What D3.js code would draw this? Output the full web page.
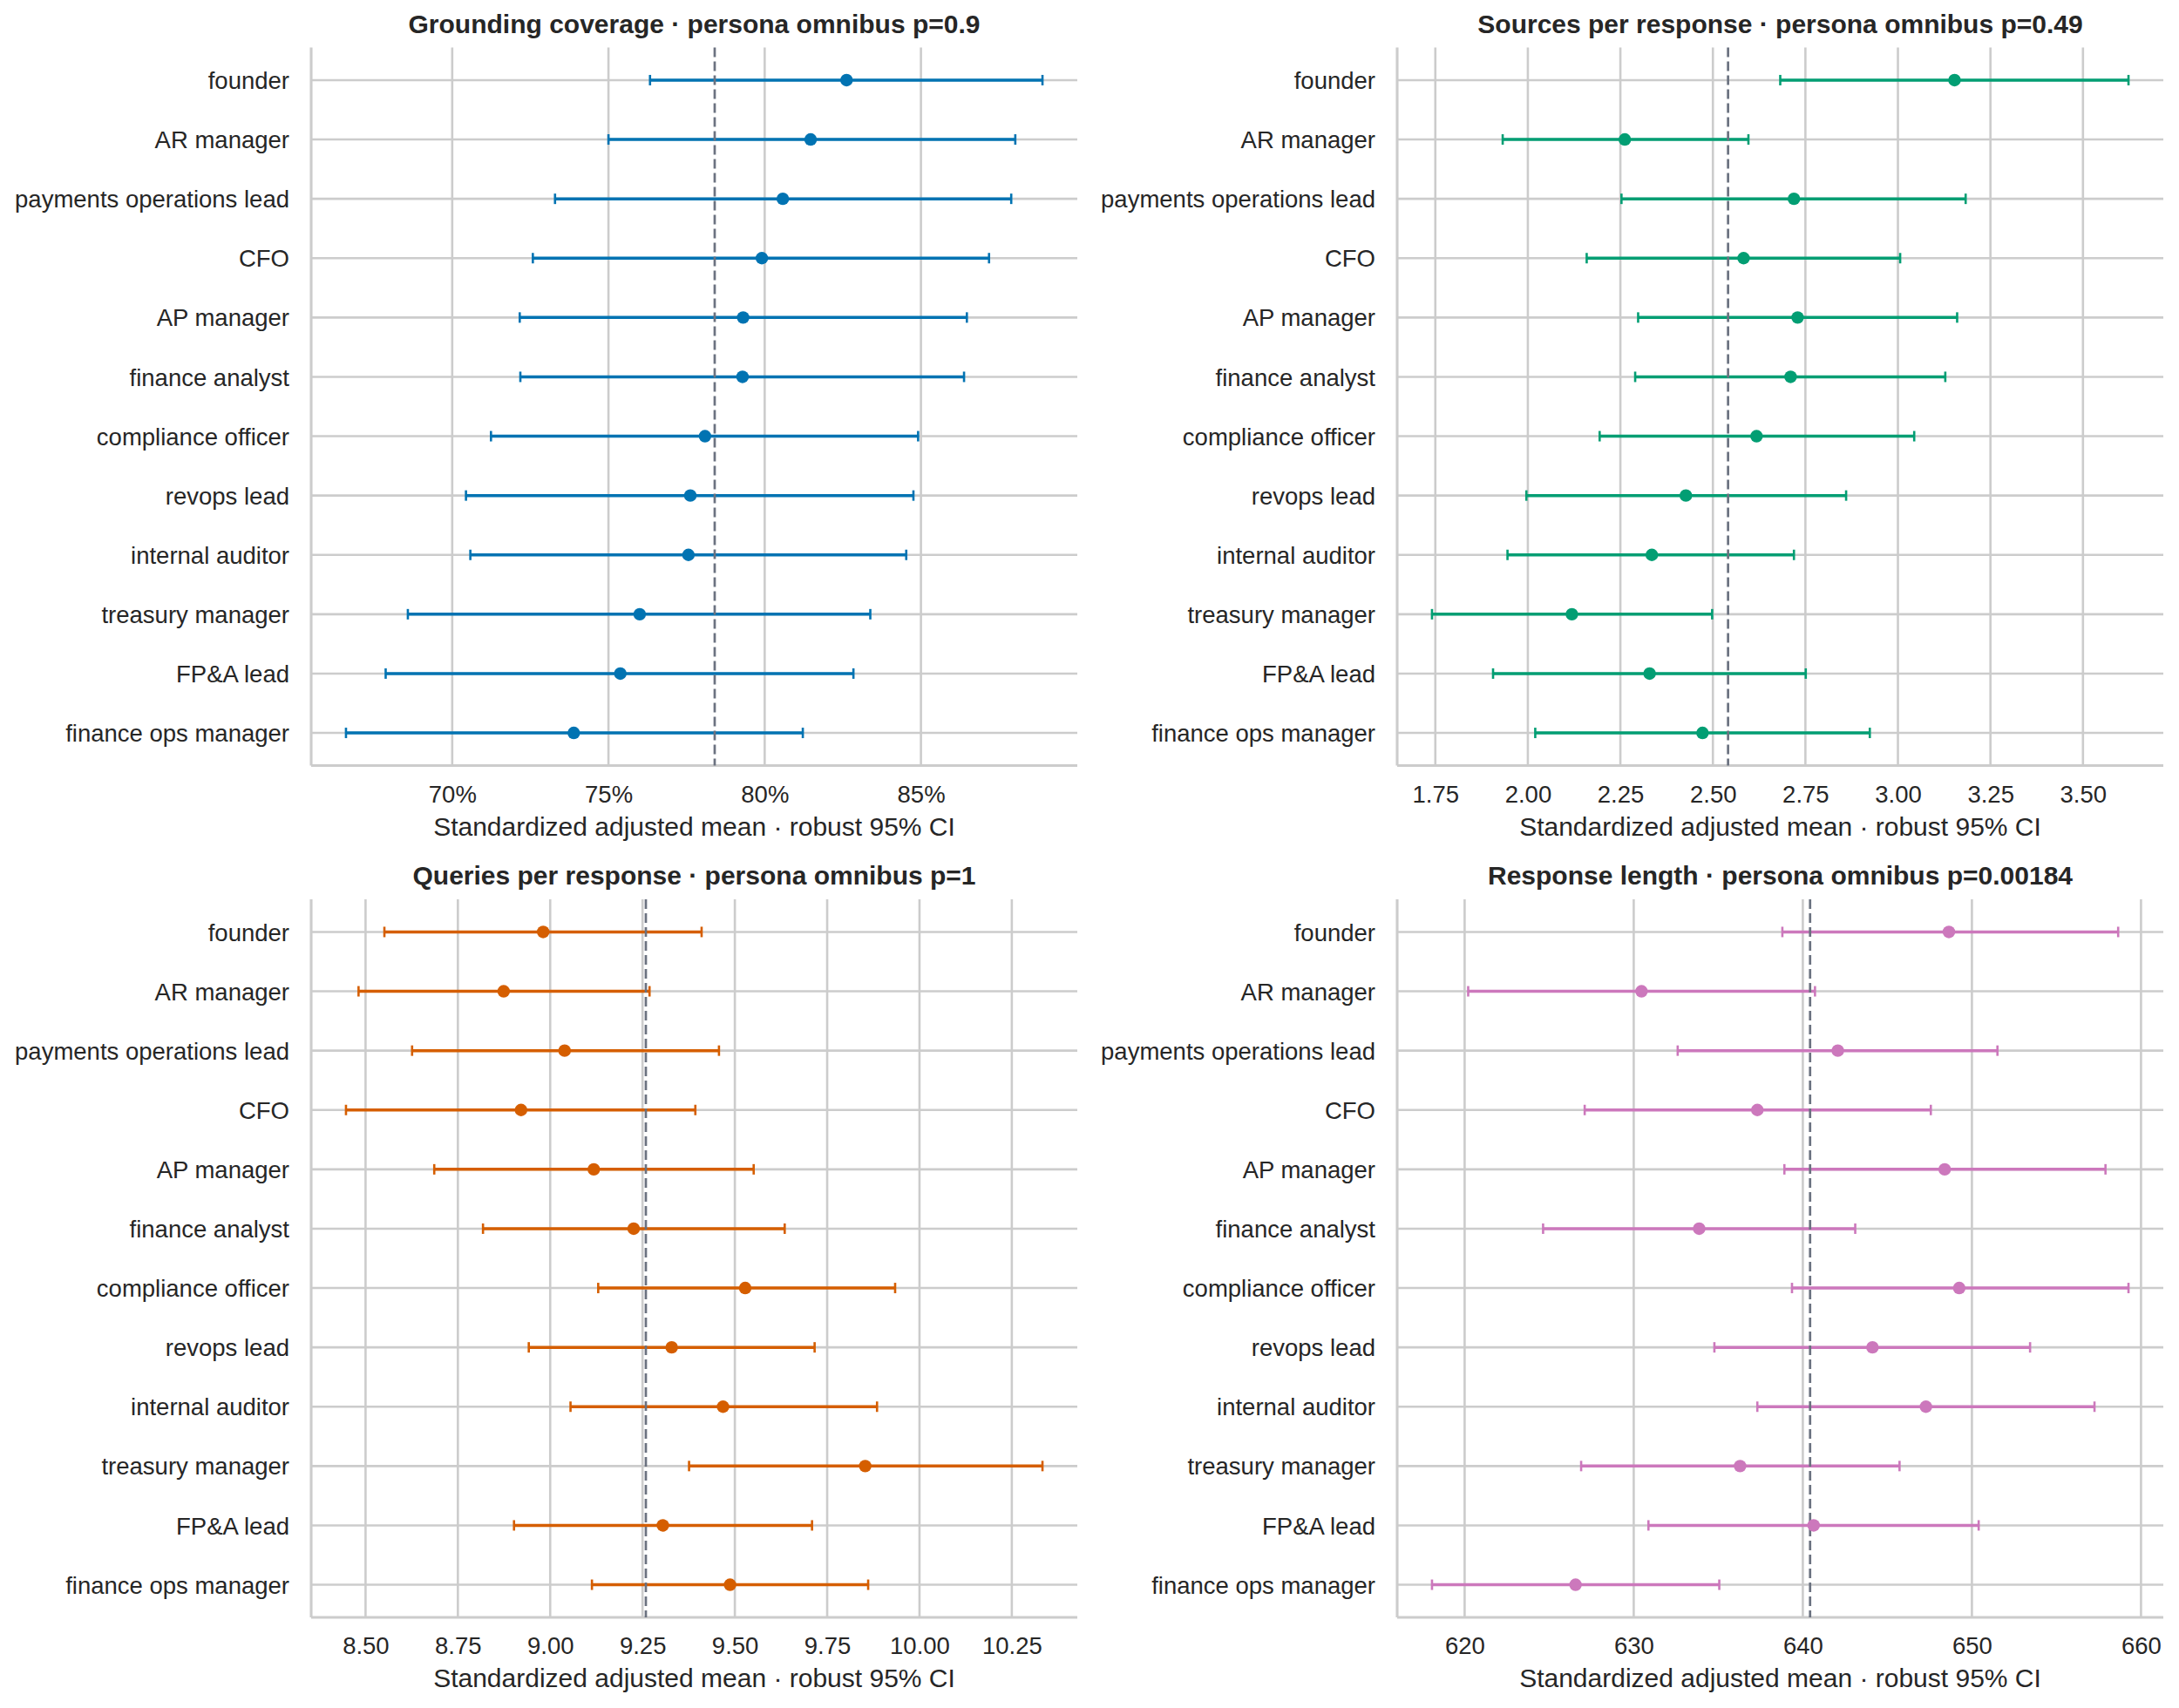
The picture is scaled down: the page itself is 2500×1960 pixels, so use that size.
<!DOCTYPE html>
<html>
<head>
<meta charset="utf-8">
<script src="https://cdn.jsdelivr.net/npm/d3@7"></script>
<style>
  body { margin: 0; background: #ffffff; }
  text { font-family: "Liberation Sans", Arial, sans-serif; fill: #262626; }
</style>
</head>
<body>
<div id="chart"></div>
<script>
// personas, top to bottom
var personas = ["founder", "AR manager", "payments operations lead", "CFO", "AP manager",
  "finance analyst", "compliance officer", "revops lead", "internal auditor",
  "treasury manager", "FP&A lead", "finance ops manager"];

// grounding coverage (%)
var groundMean = [82.62, 81.47, 80.58, 79.91, 79.31, 79.29, 78.09, 77.62, 77.56, 76.00, 75.38, 73.89];
var groundLo   = [76.33, 75.00, 73.29, 72.58, 72.16, 72.18, 71.24, 70.44, 70.58, 68.58, 67.87, 66.60];
var groundHi   = [88.89, 88.02, 87.89, 87.18, 86.47, 86.38, 84.91, 84.76, 84.53, 83.38, 82.84, 81.22];
var groundRef = 78.4;
var groundTicks = [70, 75, 80, 85];

// sources per response
var sourcesMean = [3.153, 2.262, 2.719, 2.583, 2.729, 2.710, 2.618, 2.427, 2.335, 2.119, 2.329, 2.472];
var sourcesLo   = [2.682, 1.932, 2.253, 2.159, 2.298, 2.290, 2.194, 1.996, 1.945, 1.741, 1.906, 2.020];
var sourcesHi   = [3.623, 2.596, 3.183, 3.006, 3.160, 3.128, 3.044, 2.860, 2.719, 2.498, 2.751, 2.924];
var sourcesRef = 2.541;
var sourcesTicks = [1.75, 2.00, 2.25, 2.50, 2.75, 3.00, 3.25, 3.50];

// queries per response
var queriesMean = [8.981, 8.874, 9.039, 8.921, 9.118, 9.226, 9.528, 9.329, 9.468, 9.853, 9.305, 9.487];
var queriesLo   = [8.551, 8.481, 8.626, 8.447, 8.686, 8.818, 9.130, 8.942, 9.055, 9.376, 8.902, 9.113];
var queriesHi   = [9.410, 9.269, 9.457, 9.393, 9.551, 9.635, 9.934, 9.716, 9.885, 10.333, 9.709, 9.861];
var queriesRef = 9.259;
var queriesTicks = [8.50, 8.75, 9.00, 9.25, 9.50, 9.75, 10.00, 10.25];

// response length
var lengthMean = [648.64, 630.46, 642.07, 637.31, 648.39, 633.87, 649.25, 644.12, 647.28, 636.29, 640.64, 626.56];
var lengthLo   = [638.79, 620.21, 632.60, 627.10, 638.91, 624.64, 639.36, 634.77, 637.31, 626.89, 630.87, 618.07];
var lengthHi   = [658.65, 640.72, 651.51, 647.57, 657.90, 643.10, 659.26, 653.44, 657.25, 645.72, 650.40, 635.06];
var lengthRef = 640.43;
var lengthTicks = [620, 630, 640, 650, 660];

var panels = [
  { title: "Grounding coverage \u00b7 persona omnibus p=0.9", mean: groundMean, lo: groundLo, hi: groundHi,
    ref: groundRef, ticks: groundTicks, fmt: function (d) { return d + "%"; }, color: "#0173b2", col: 0, row: 0 },
  { title: "Sources per response \u00b7 persona omnibus p=0.49", mean: sourcesMean, lo: sourcesLo, hi: sourcesHi,
    ref: sourcesRef, ticks: sourcesTicks, fmt: d3.format(".2f"), color: "#029e73", col: 1, row: 0 },
  { title: "Queries per response \u00b7 persona omnibus p=1", mean: queriesMean, lo: queriesLo, hi: queriesHi,
    ref: queriesRef, ticks: queriesTicks, fmt: d3.format(".2f"), color: "#d55e00", col: 0, row: 1 },
  { title: "Response length \u00b7 persona omnibus p=0.00184", mean: lengthMean, lo: lengthLo, hi: lengthHi,
    ref: lengthRef, ticks: lengthTicks, fmt: d3.format("d"), color: "#cc78bc", col: 1, row: 1 }
];

var W = 2500, H = 1960;
var lefts = [357, 1603];
var tops = [54.5, 1032];
var pw = 879, ph = 824;
var grid = "#cccccc";

var svg = d3.select("#chart").append("svg")
  .attr("width", W)
  .attr("height", H)
  .style("background", "#ffffff");

panels.forEach(function (p) {
  var g = svg.append("g")
    .attr("transform", "translate(" + lefts[p.col] + "," + tops[p.row] + ")");

  // matplotlib style 5% margin around the CI range
  var lo = d3.min(p.lo), hi = d3.max(p.hi);
  var pad = (hi - lo) * 0.05;
  var x = d3.scaleLinear().domain([lo - pad, hi + pad]).range([0, pw]);
  var y = d3.scalePoint().domain(personas).range([0, ph]).padding(0.55);

  // grid
  g.selectAll(".vgrid").data(p.ticks).enter().append("line")
    .attr("x1", function (d) { return x(d); })
    .attr("x2", function (d) { return x(d); })
    .attr("y1", 0).attr("y2", ph)
    .attr("stroke", grid).attr("stroke-width", 2.6);
  g.selectAll(".hgrid").data(personas).enter().append("line")
    .attr("x1", 0).attr("x2", pw)
    .attr("y1", function (d) { return y(d); })
    .attr("y2", function (d) { return y(d); })
    .attr("stroke", grid).attr("stroke-width", 2.6);

  // spines (left + bottom only)
  g.append("line").attr("x1", 0).attr("x2", 0).attr("y1", 0).attr("y2", ph)
    .attr("stroke", grid).attr("stroke-width", 3.1);
  g.append("line").attr("x1", 0).attr("x2", pw).attr("y1", ph).attr("y2", ph)
    .attr("stroke", grid).attr("stroke-width", 3.1);

  // axes text
  var xAxis = d3.axisBottom(x).tickValues(p.ticks).tickFormat(p.fmt).tickSize(0).tickPadding(0);
  var xa = g.append("g").attr("transform", "translate(0," + ph + ")").call(xAxis);
  xa.select(".domain").remove();
  xa.selectAll("text")
    .attr("y", 42).attr("dy", null)
    .style("font-size", "27.5px")
    .style("font-family", "'Liberation Sans', Arial, sans-serif")
    .attr("fill", "#262626");

  var yAxis = d3.axisLeft(y).tickSize(0).tickPadding(25);
  var ya = g.append("g").call(yAxis);
  ya.select(".domain").remove();
  ya.selectAll("text")
    .attr("dy", "0.35em")
    .style("font-size", "27.5px")
    .style("font-family", "'Liberation Sans', Arial, sans-serif")
    .attr("fill", "#262626");

  // error bars
  var rows = personas.map(function (name, i) {
    return { name: name, mean: p.mean[i], lo: p.lo[i], hi: p.hi[i] };
  });
  g.selectAll(".bar").data(rows).enter().append("line")
    .attr("x1", function (d) { return x(d.lo); })
    .attr("x2", function (d) { return x(d.hi); })
    .attr("y1", function (d) { return y(d.name); })
    .attr("y2", function (d) { return y(d.name); })
    .attr("stroke", p.color).attr("stroke-width", 3.5);
  ["lo", "hi"].forEach(function (k) {
    g.selectAll(".cap-" + k).data(rows).enter().append("line")
      .attr("x1", function (d) { return x(d[k]); })
      .attr("x2", function (d) { return x(d[k]); })
      .attr("y1", function (d) { return y(d.name) - 6; })
      .attr("y2", function (d) { return y(d.name) + 6; })
      .attr("stroke", p.color).attr("stroke-width", 2.6);
  });

  // reference line
  g.append("line")
    .attr("x1", x(p.ref)).attr("x2", x(p.ref))
    .attr("y1", 0).attr("y2", ph)
    .attr("stroke", "#6b7280").attr("stroke-width", 2.7)
    .attr("stroke-dasharray", "11,5");

  // points
  g.selectAll(".pt").data(rows).enter().append("circle")
    .attr("cx", function (d) { return x(d.mean); })
    .attr("cy", function (d) { return y(d.name); })
    .attr("r", 7.2)
    .attr("fill", p.color);

  // labels
  g.append("text")
    .attr("x", pw / 2).attr("y", -17)
    .attr("text-anchor", "middle")
    .style("font-size", "30px").style("font-weight", "bold")
    .text(p.title);
  g.append("text")
    .attr("x", pw / 2).attr("y", ph + 80)
    .attr("text-anchor", "middle")
    .style("font-size", "30px")
    .text("Standardized adjusted mean \u00b7 robust 95% CI");
});
</script>
</body>
</html>
